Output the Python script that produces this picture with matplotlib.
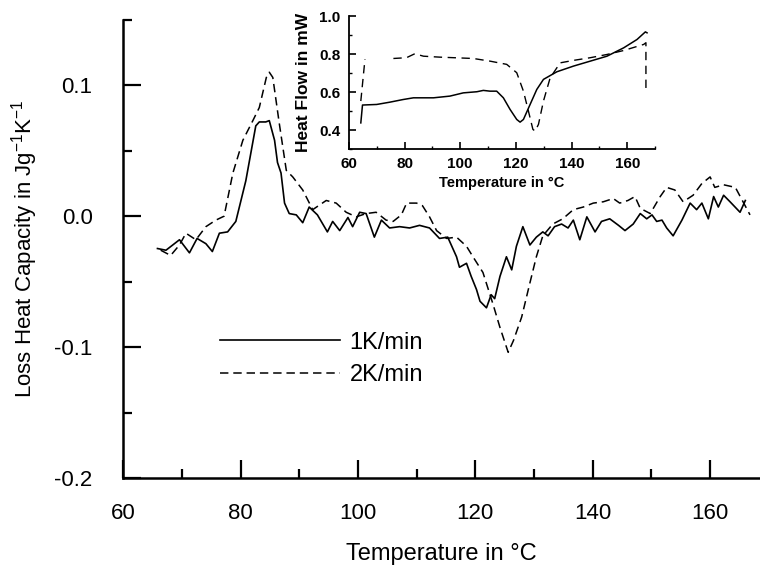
import numpy as np
import matplotlib
matplotlib.use("Agg")
import matplotlib.pyplot as plt
from matplotlib.ticker import MultipleLocator

plt.rcParams['font.family'] = ['Liberation Sans', 'DejaVu Sans']

# ---- main chart data: loss heat capacity (J g^-1 K^-1) vs temperature (°C)
t_1k = [65.85, 67.3, 69.6, 71.3, 72.6, 74.1, 75.2, 76.4, 77.8, 79.2, 80.9, 82.6, 83.2, 84.3, 84.9,
        85.8, 86.3, 86.9, 87.5, 88.3, 89.5, 90.6, 91.7, 93.1, 94.8, 95.7, 96.9, 98.3, 99.1, 100.3,
        101.4, 102.8, 104.0, 105.4, 107.1, 108.8, 110.5, 112.2, 113.9, 115.3, 116.8, 117.3, 118.5,
        119.3, 120.2, 120.8, 121.9, 122.7, 123.3, 124.2, 125.3, 126.2, 127.0, 128.1, 129.3, 130.4,
        131.5, 132.4, 133.5, 134.7, 135.8, 136.7, 137.8, 139.0, 140.4, 141.5, 142.9, 144.4, 145.5,
        146.9, 148.1, 149.2, 150.1, 150.9, 151.8, 152.6, 153.7, 155.2, 156.6, 157.7, 158.6, 159.7,
        160.6, 161.4, 162.3, 163.4, 165.1, 166.0]
c_1k = [-0.0247, -0.026, -0.018, -0.028, -0.017, -0.021, -0.027, -0.013, -0.012, -0.004, 0.027, 0.069,
        0.072, 0.072, 0.073, 0.058, 0.041, 0.033, 0.010, 0.002, 0.001, -0.005, 0.007, 0.001, -0.012,
        -0.004, -0.011, -0.001, -0.008, 0.003, 0.002, -0.016, -0.003, -0.009, -0.008, -0.009, -0.007,
        -0.009, -0.017, -0.016, -0.031, -0.039, -0.036, -0.046, -0.056, -0.065, -0.070, -0.060,
        -0.063, -0.046, -0.031, -0.041, -0.023, -0.008, -0.022, -0.016, -0.012, -0.015, -0.008,
        -0.006, -0.009, -0.003, -0.018, -0.0005, -0.012, -0.004, -0.002, -0.007, -0.011, -0.006,
        0.002, -0.002, 0.001, -0.004, -0.003, -0.009, -0.015, -0.003, 0.010, 0.005, 0.010, -0.002,
        0.015, 0.007, 0.016, 0.011, 0.003, 0.012]

t_2k = [66.4, 68.1, 69.6, 70.7, 72.4, 74.1, 75.8, 77.2, 78.7, 80.4, 82.1, 83.2, 84.4, 84.9, 85.5,
        86.6, 87.8, 88.9, 90.6, 92.3, 94.6, 96.3, 98.0, 99.7, 101.4, 103.1, 104.8, 106.0, 107.4,
        108.3, 110.0, 111.0, 112.2, 113.4, 115.1, 116.8, 118.5, 119.6, 121.3, 123.0, 124.2, 125.6,
        126.5, 127.9, 129.3, 130.4, 131.5, 133.2, 134.9, 136.7, 138.4, 140.1, 141.8, 143.5, 144.6,
        146.0, 147.2, 148.1, 149.8, 151.5, 152.6, 154.0, 155.4, 157.1, 158.6, 160.0, 160.8, 162.3,
        164.3, 166.8]
c_2k = [-0.026, -0.030, -0.022, -0.013, -0.018, -0.008, -0.003, 0.0, 0.033, 0.058, 0.073, 0.083,
        0.106, 0.110, 0.106, 0.071, 0.035, 0.030, 0.020, 0.005, 0.012, 0.010, 0.003, -0.0005, 0.002,
        0.003, -0.003, -0.004, 0.001, 0.010, 0.010, 0.008, -0.0005, -0.011, -0.017, -0.016, -0.023,
        -0.031, -0.043, -0.067, -0.085, -0.104, -0.095, -0.077, -0.051, -0.031, -0.015, -0.006,
        -0.002, 0.005, 0.007, 0.010, 0.011, 0.0135, 0.010, 0.012, 0.015, 0.006, 0.002, 0.015,
        0.022, 0.020, 0.011, 0.016, 0.025, 0.030, 0.022, 0.024, 0.022, 0.001]

# ---- inset data: heat flow (mW) vs temperature (°C)
ti_1k = [64.3, 64.9, 70.0, 74.7, 79.5, 83.2, 90.4, 96.3, 101.1, 106.0, 108.3, 110.7, 113.1, 115.5,
         117.9, 120.3, 121.5, 122.7, 125.1, 127.5, 129.9, 134.7, 140.7, 146.7, 152.7, 158.7, 163.5,
         166.5, 167.1]
hi_1k = [0.438, 0.532, 0.535, 0.547, 0.561, 0.570, 0.570, 0.579, 0.596, 0.602, 0.609, 0.605, 0.605,
         0.570, 0.509, 0.456, 0.442, 0.456, 0.535, 0.614, 0.667, 0.707, 0.737, 0.763, 0.789, 0.833,
         0.877, 0.917, 0.912]
ti_2k = [64.3, 65.8, np.nan, 76.0, 80.7, 83.7, 86.8, 92.7, 104.7, 110.7, 116.7, 120.3, 122.7, 124.5,
         126.1, 126.9, 128.1, 129.9, 132.3, 135.9, 140.7, 146.7, 152.7, 158.7, 165.9, 166.7, 166.7]
hi_2k = [0.553, 0.774, np.nan, 0.777, 0.781, 0.802, 0.789, 0.784, 0.777, 0.763, 0.746, 0.702, 0.605,
         0.500, 0.404, 0.395, 0.430, 0.553, 0.675, 0.754, 0.767, 0.781, 0.798, 0.819, 0.851, 0.860,
         0.605]

labels = ['1K/min', '2K/min']
main_xticks = [60, 80, 100, 120, 140, 160]
main_yticks = [-0.2, -0.1, 0.0, 0.1]
main_yticklabels = ['-0.2', '-0.1', '0.0', '0.1']
inset_xticks = [60, 80, 100, 120, 140, 160]
inset_yticks = [0.4, 0.6, 0.8, 1.0]
inset_yticklabels = ['0.4', '0.6', '0.8', '1.0']

dash = (0, (5.5, 3.2))

fig = plt.figure(figsize=(7.6, 5.67), dpi=100)
ax = fig.add_axes([0.162, 0.157, 0.838, 0.808])

ax.plot(t_1k, c_1k, color='black', lw=1.2, ls='-', label=labels[0])
ax.plot(t_2k, c_2k, color='black', lw=1.1, ls=dash, label=labels[1])

ax.set_xlim(60, 168.5)
ax.set_ylim(-0.2, 0.15)
for s in ['top', 'right']:
    ax.spines[s].set_visible(False)
for s in ['left', 'bottom']:
    ax.spines[s].set_linewidth(1.8)
ax.set_xticks(main_xticks)
ax.set_yticks(main_yticks)
ax.set_yticklabels(main_yticklabels)
ax.xaxis.set_minor_locator(MultipleLocator(10))
ax.yaxis.set_minor_locator(MultipleLocator(0.05))
ax.tick_params(which='major', direction='in', length=13, width=1.6, labelsize=16)
ax.tick_params(axis='x', which='major', pad=18)
ax.tick_params(axis='y', which='major', pad=22)
ax.tick_params(which='minor', direction='in', length=6.5, width=1.6)
ax.set_xlabel('Temperature in °C', fontsize=17, labelpad=14)
ax.set_ylabel('Loss Heat Capacity in Jg$^{\\mathregular{-1}}$K$^{\\mathregular{-1}}$',
              fontsize=16, labelpad=10)

leg = ax.legend(loc='upper left', bbox_to_anchor=(0.118, 0.366), frameon=False, fontsize=17,
                handlelength=5.1, handletextpad=0.4, labelspacing=0.45)

# ---- inset
axi = fig.add_axes([0.459, 0.737, 0.403, 0.2346])
axi.plot(ti_1k, hi_1k, color='black', lw=1.1, ls='-')
axi.plot(ti_2k, hi_2k, color='black', lw=1.0, ls=(0, (6, 4)))
axi.set_xlim(60, 170)
axi.set_ylim(0.3, 1.0)
for s in ['top', 'right']:
    axi.spines[s].set_visible(False)
for s in ['left', 'bottom']:
    axi.spines[s].set_linewidth(1.3)
axi.set_xticks(inset_xticks)
axi.set_yticks(inset_yticks)
axi.set_yticklabels(inset_yticklabels)
axi.xaxis.set_minor_locator(MultipleLocator(10))
axi.yaxis.set_minor_locator(MultipleLocator(0.1))
axi.tick_params(which='major', direction='in', length=5, width=1.2, labelsize=11)
axi.tick_params(which='minor', direction='in', length=2.5, width=1.0)
axi.tick_params(axis='x', which='major', pad=6)
axi.tick_params(axis='y', which='major', pad=6)
for lbl in axi.get_xticklabels() + axi.get_yticklabels():
    lbl.set_fontweight('bold')
axi.set_xlabel('Temperature in °C', fontsize=10.5, fontweight='bold', labelpad=3)
axi.set_ylabel('Heat Flow in mW', fontsize=12.5, fontweight='bold', labelpad=6)

fig.savefig('out.png', dpi=100)
